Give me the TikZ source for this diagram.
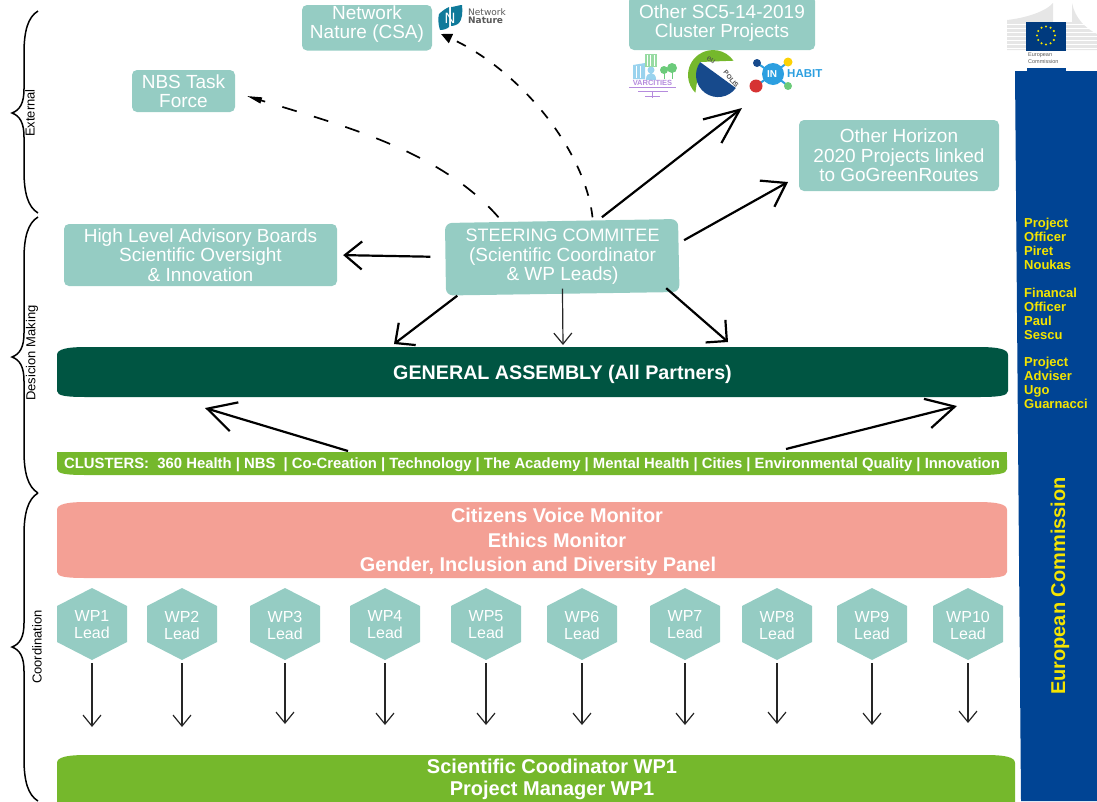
\documentclass[tikz,border=0pt]{standalone}
\usepackage{fontspec}
\setmainfont{Liberation Sans}
\newfontfamily\widefont{DejaVu Sans}
\usepackage{tikz}
\usetikzlibrary{arrows.meta}
\definecolor{tealfill}{HTML}{95CCC3}
\definecolor{darkbar}{HTML}{005542}
\definecolor{greenbar}{HTML}{75B82C}
\definecolor{pinkbar}{HTML}{F4A095}
\definecolor{eublue}{HTML}{004494}
\definecolor{euyellow}{HTML}{F4E400}
\definecolor{wingrey}{HTML}{E6E6E6}
\definecolor{leafblue}{HTML}{0F7A9A}
\definecolor{polisblue}{HTML}{174A8C}
\definecolor{habitblue}{HTML}{2C9FE0}
\definecolor{varpurple}{HTML}{B58BDD}
\definecolor{vargreen}{HTML}{6CCB7B}
\definecolor{varblue}{HTML}{9AD3EE}
\tikzset{
	tealtext/.style={text=white,align=center,inner sep=0pt,font=\fontsize{19}{19.5}\selectfont},
	tealbox/.style={tealtext,fill=tealfill,rounded corners=5pt},
	hexlabel/.style={text=white,align=center,inner sep=0pt,minimum width=70pt,minimum height=72pt,font=\fontsize{16}{17}\selectfont},
	barlabel/.style={text=white,align=center,inner sep=0pt},
	sidelabel/.style={rotate=90,inner sep=0pt,font=\fontsize{13}{13}\selectfont},
	eulabel/.style={text=euyellow,align=left,anchor=north west,inner sep=0pt,font=\bfseries\fontsize{13}{14}\selectfont},
	barbed/.style 2 args={line width=2.2pt,-{Straight Barb[length=#1pt,width=#2pt,line width=2.2pt]}},
	thinarrow/.style={line width=1.2pt,color=black!85,-{Straight Barb[length=11pt,width=18pt,line width=1.2pt]}},
	dasharrow/.style={line width=1.7pt}
}
% bar with long flat corners: left, right, top, bottom, colour
\newcommand{\flatbar}[5]{
	\fill[#5] (#1,#3+8) .. controls (#1,#3+2) and (#1+10,#3) .. (#1+30,#3) -- (#2-30,#3)
		.. controls (#2-10,#3) and (#2,#3+2) .. (#2,#3+8) -- (#2,#4-6)
		.. controls (#2,#4-1) and (#2-10,#4) .. (#2-30,#4) -- (#1+30,#4)
		.. controls (#1+10,#4) and (#1,#4-1) .. (#1,#4-6) -- cycle;
}
% curly side brace: top, tip, bottom
\newcommand{\sidebrace}[3]{
	\draw[line width=1.5pt] (38,#1) .. controls (28,#1+6) and (24,#1+20) .. (24,#1+42) -- (24,#2-24)
		.. controls (24,#2-10) and (20,#2-3) .. (12,#2) .. controls (20,#2+3) and (24,#2+10) .. (24,#2+24)
		-- (24,#3-42) .. controls (24,#3-20) and (28,#3-6) .. (38,#3);
}
\begin{document}
\begin{tikzpicture}[x=1pt,y=-1pt]
	\useasboundingbox (0,0) rectangle (1097,801);
	% blue side panel
	\fill[eublue] (1015,71) -- (1097,71) -- (1097,801) -- (1021,801) -- cycle;
	\fill[eublue] (1027,68) rectangle (1066,72);
	\node[eulabel] (officer) at (1024,218) {Project\\Officer\\Piret\\Noukas};
	\node[eulabel] (financial) at (1024,288) {Financal\\Officer\\Paul\\Sescu};
	\node[eulabel] (adviser) at (1024,357) {Project\\Adviser\\Ugo\\Guarnacci};
	\node[rotate=90,text=euyellow,inner sep=0pt,font=\bfseries\fontsize{20}{20}\selectfont] (commission) at (1060,586) {European Commission};
	% commission logo
	\fill[wingrey] (1007,20) .. controls (1025,18) and (1045,12) .. (1053,3) -- (1053,50) -- (1007,50) -- cycle;
	\fill[wingrey] (1072,3) .. controls (1075,18) and (1085,28) .. (1097,34) -- (1097,50) -- (1060,50) -- (1060,22) -- (1072,22) -- cycle;
	\foreach \y in {24,28,...,48} {
		\draw[white,line width=.5pt] (1007,\y) -- (1030,\y);
		\draw[white,line width=.5pt] (1060,\y) -- (1097,\y);
	}
	\fill[eublue!85!black] (1026,22) rectangle (1066,51);
	\foreach \a in {0,30,...,330}
		\fill[euyellow] (1046,35.5) ++(\a:9) circle (1.2);
	\node[text=black!65,align=left,anchor=north west,inner sep=0pt,font=\fontsize{5.5}{6.5}\selectfont] (logotext) at (1028,53) {European\\Commission};
	% teal boxes
	\fill[tealfill,rounded corners=5pt] (302,5) rectangle (432,50.5);
	\node[tealtext] (csa) at (367,24) {Network\\Nature (CSA)};
	\node[tealbox,minimum width=186pt,minimum height=54pt] (cluster) at (722,23) {Other SC5-14-2019\\Cluster Projects};
	\node[tealbox,minimum width=103pt,minimum height=42pt] (nbs) at (183.5,91) {NBS Task\\Force};
	\node[tealbox,minimum width=200pt,minimum height=71pt] (horizon) at (899,155.5) {Other Horizon\\2020 Projects linked\\to GoGreenRoutes};
	\node[tealbox,minimum width=273pt,minimum height=62pt] (boards) at (200.5,255) {High Level Advisory Boards\\Scientific Oversight\\\& Innovation};
	\fill[tealfill,rounded corners=7pt] (445,223) -- (678,219) -- (679.5,292) -- (446,295.5) -- cycle;
	\node[tealtext,minimum width=234pt,minimum height=73pt] (steering) at (562.5,257) {{\fontsize{18}{19.5}\selectfont STEERING COMMITEE}\\(Scientific Coordinator\\\& WP Leads)};
	% bars
	\flatbar{57}{1008}{347}{397}{darkbar}
	\flatbar{57}{1007}{452}{475}{greenbar}
	\fill[greenbar] (57,452) rectangle (1007,462);
	\flatbar{57}{1007}{502}{578}{pinkbar}
	\flatbar{57}{1015}{755}{815}{greenbar}
	\node[barlabel,font=\bfseries\fontsize{19.7}{20}\selectfont] (assembly) at (562.5,374) {GENERAL ASSEMBLY (All Partners)};
	\node[barlabel,font=\bfseries\fontsize{14.85}{15}\selectfont] (clusters) at (532,465) {CLUSTERS:\ \ 360 Health | NBS\ \ | Co-Creation | Technology | The Academy | Mental Health | Cities | Environmental Quality | Innovation};
	\node[barlabel,font=\bfseries\fontsize{19.9}{24.5}\selectfont] (monitors) at (557,542) {Citizens Voice Monitor\\Ethics Monitor\\Gender, Inclusion and Diversity Panel\hspace*{38pt}};
	\node[barlabel,font=\bfseries\fontsize{20}{22}\selectfont] (coordinator) at (552,779.5) {Scientific Coodinator WP1\\Project Manager WP1};
	% work package hexagons
	\foreach \Nombre/\x/\tipy in {1/92/727,2/182/727,3/285/724,4/385/725,5/486/725,6/582/725,7/685/725,8/777/724,9/872/725,10/968/723} {
		\fill[tealfill,shift={(\x,624)}] (0,-36) -- (35,-18) -- (35,18) -- (0,36) -- (-35,18) -- (-35,-18) -- cycle;
		\node[hexlabel] (wp\Nombre) at (\x,625) {WP\Nombre\\Lead};
		\coordinate (tip\Nombre) at (\x,\tipy);
		\draw[thinarrow,shorten <=2pt] (wp\Nombre.south) -- (tip\Nombre);
	}
	% free arrow ends
	\coordinate (tipcluster) at (742,108);
	\coordinate (tiphorizon) at (788,182);
	\coordinate (tipcsa) at (441,34);
	\coordinate (tipnbs) at (247,96);
	\coordinate (tipleft) at (205,408);
	\coordinate (tipright) at (957,406);
	\coordinate (startleft) at (348,451);
	\coordinate (startright) at (786,449);
	\coordinate (tipgaleft) at (394,344);
	\coordinate (tipgamid) at (563,345);
	\coordinate (tipgaright) at (728,342);
	% arrows
	\draw[barbed={17}{28},shorten <=15pt,shorten >=6pt] (steering.west) -- (boards.east);
	\draw[barbed={35}{30},shorten <=5pt] (steering.46) -- (tipcluster);
	\draw[barbed={22}{30},shorten <=5pt] (steering.7) -- (tiphorizon);
	\draw[barbed={15}{28}] (steering.south west) ++(12,2) -- (tipgaleft);
	\draw[thinarrow,shorten <=-5pt] (steering.south) -- (tipgamid);
	\draw[barbed={15}{30}] (steering.south east) ++(-13.5,-5.5) -- (tipgaright);
	\draw[barbed={28}{30}] (startleft) -- (tipleft);
	\draw[barbed={28}{30}] (startright) -- (tipright);
	\draw[dasharrow,dash pattern=on 10pt off 12pt,-{Stealth[length=11pt,width=10pt,inset=0pt]}] (steering.north) ++(30,-3) .. controls (585,150) and (520,70) .. (tipcsa);
	\draw[dasharrow,dash pattern=on 15pt off 18pt,-{Stealth[length=15pt,width=6pt,inset=0pt]}] (steering.north) ++(-64,-3) .. controls (440,150) and (340,125) .. (tipnbs);
	% network nature logo
	\fill[leafblue] (439,14) .. controls (443,10) and (447,8) .. (449,7) -- (449,27) .. controls (447,29) and (443,30) .. (440,30) .. controls (438,24) and (438,18) .. (439,14) -- cycle;
	\fill[leafblue] (451,7) .. controls (454,7) and (459,5) .. (462,5) .. controls (463,12) and (462,20) .. (459,23) .. controls (457,25) and (453,26) .. (451,26) -- cycle;
	\node[text=white,inner sep=0pt,font=\fontsize{15}{15}\selectfont] (leafn) at (450,18) {N};
	\node[text=black!65,align=left,anchor=west,inner sep=0pt,font=\widefont\fontsize{9}{8.5}\selectfont] (nature) at (468,16) {Network\\\textbf{Nature}};
	% eupolis logo
	\fill[greenbar] (733.5,60.7) arc (-35:-225:25) -- (700,62) -- cycle;
	\fill[polisblue] (735.8,88) arc (36:216:22) -- cycle;
	\node[rotate=-36,text=black!70,inner sep=0pt,font=\fontsize{8}{8}\selectfont] (eu) at (711,60) {eu};
	\node[rotate=-50,text=black!70,inner sep=0pt,font=\bfseries\fontsize{6.5}{7}\selectfont] (polis) at (731,79) {POLIS};
	% inhabit logo
	\draw[habitblue,line width=2pt] (757,63) -- (773,74) -- (788,62) (756,86) -- (773,74) -- (788,86);
	\fill[habitblue] (773,74) circle (11);
	\fill[polisblue] (757,63) circle (4);
	\fill[yellow!70!orange] (788,62) circle (4.5);
	\fill[red!80!black!80] (756,86) circle (6.5);
	\fill[vargreen] (788,86) circle (4);
	\node[text=white,inner sep=0pt,font=\bfseries\fontsize{10}{10}\selectfont] (inword) at (772,74) {IN};
	\node[text=habitblue,anchor=west,inner sep=0pt,font=\bfseries\fontsize{11.5}{12}\selectfont] (habit) at (787,74) {HABIT};
	% varcities logo
	\fill[varblue] (633,65) -- (645,63) -- (645,79) -- (633,79) -- cycle;
	\fill[vargreen!70] (645,54) rectangle (657,67);
	\foreach \x in {647,650.5,654}
		\draw[white,line width=.6pt] (\x,55) -- (\x,66);
	\foreach \x in {636,640}
		\draw[white,line width=.6pt] (\x,66) -- (\x,78);
	\fill[varblue] (651,70) circle (3.5) (651,79) ellipse (5 and 6);
	\fill[vargreen] (664,70) circle (4) (672,68) circle (5);
	\draw[vargreen,line width=1pt] (664,72) -- (664,79) (672,70) -- (672,79);
	\fill[white] (627,79.5) rectangle (679,86);
	\node[text=varpurple,inner sep=0pt,font=\bfseries\fontsize{7.5}{7}\selectfont] (varcities) at (652.5,82.5) {VARCITIES};
	\draw[varpurple,line width=1pt] (629,87) -- (676,87) (638,91) -- (668,91) (652,91) -- (652,98) (645,96) -- (660,96);
	% side braces
	\sidebrace{11}{113}{213}
	\sidebrace{217}{357}{493}
	\sidebrace{493}{647}{801}
	\node[sidelabel] (external) at (30,113) {External};
	\node[sidelabel] (making) at (32,353) {Desicion Making};
	\node[sidelabel] (coordination) at (37,647) {Coordination};
\end{tikzpicture}
\end{document}
